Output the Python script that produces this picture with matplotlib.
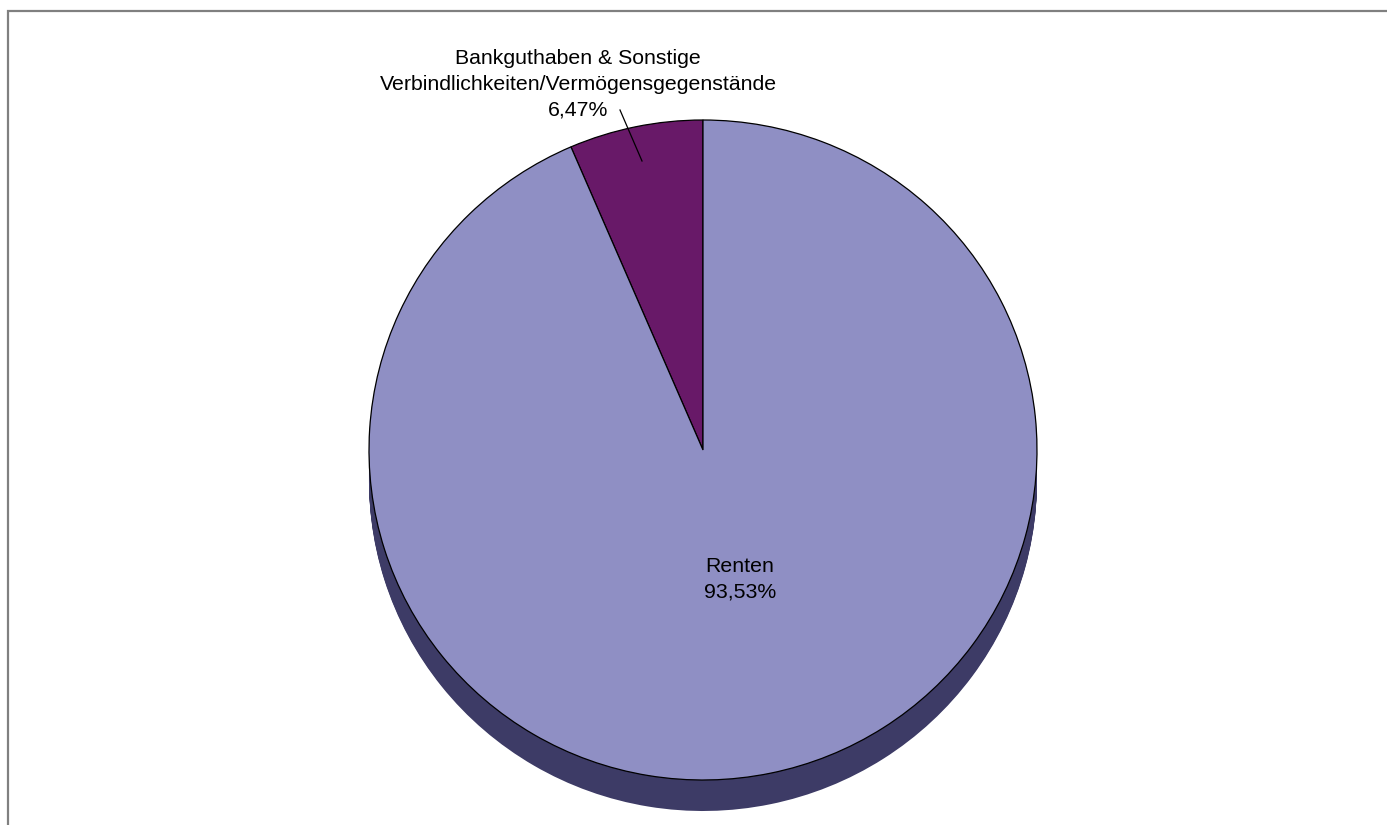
#!/usr/bin/env python3
import matplotlib
matplotlib.use("Agg")
import matplotlib.pyplot as plt
import numpy as np
from matplotlib.patches import Rectangle

# data
labels = ["Bankguthaben & Sonstige\nVerbindlichkeiten/Vermögensgegenstände", "Renten"]
values = [6.47, 93.53]
face_colors = ["#681968", "#8f8fc4"]
side_colors = ["#2e0b2f", "#3d3b66"]

W, H = 1387, 825
fig = plt.figure(figsize=(W / 100, H / 100), dpi=100)
ax = fig.add_axes([0, 0, 1, 1])

# y data slightly stretched so the pie comes out a little wider than high
k = 334 / 330
cx, cy, r = 703, (H - 450) * k, 334
depth = 31 * k

# side of the "3d" pie: the same pie stacked downwards
for d in np.linspace(depth, 1, 32):
    ax.pie(values, colors=side_colors, startangle=90, counterclock=True,
           center=(cx, cy - d), radius=r, frame=True,
           wedgeprops=dict(linewidth=0))

wedges, _ = ax.pie(values, colors=face_colors, startangle=90, counterclock=True,
                   center=(cx, cy), radius=r, frame=True,
                   wedgeprops=dict(edgecolor="black", linewidth=0.9))
ax.set_xlim(0, W)
ax.set_ylim(0, H * k)
ax.set_aspect("auto")
ax.axis("off")

fmt = lambda v: "{:.2f}%".format(v).replace(".", ",")

# labels
ax.text(740, (H - 579) * k, "{}\n{}".format(labels[1], fmt(values[1])), ha="center", va="center",
        fontsize=15.3, family="Liberation Sans", linespacing=1.45)
ax.text(578, (H - 84) * k, "{}\n{}".format(labels[0], fmt(values[0])), ha="center", va="center",
        fontsize=15.3, family="Liberation Sans", linespacing=1.45)
ax.plot([620, 642], [(H - 110) * k, (H - 161) * k], color="black", lw=0.9)

# outer frame
ax.add_patch(Rectangle((8, -20), W, (H - 11) * k + 20, fill=False, edgecolor="#808080", lw=1.6,
                       clip_on=False))

fig.savefig("out.png", dpi=100)
